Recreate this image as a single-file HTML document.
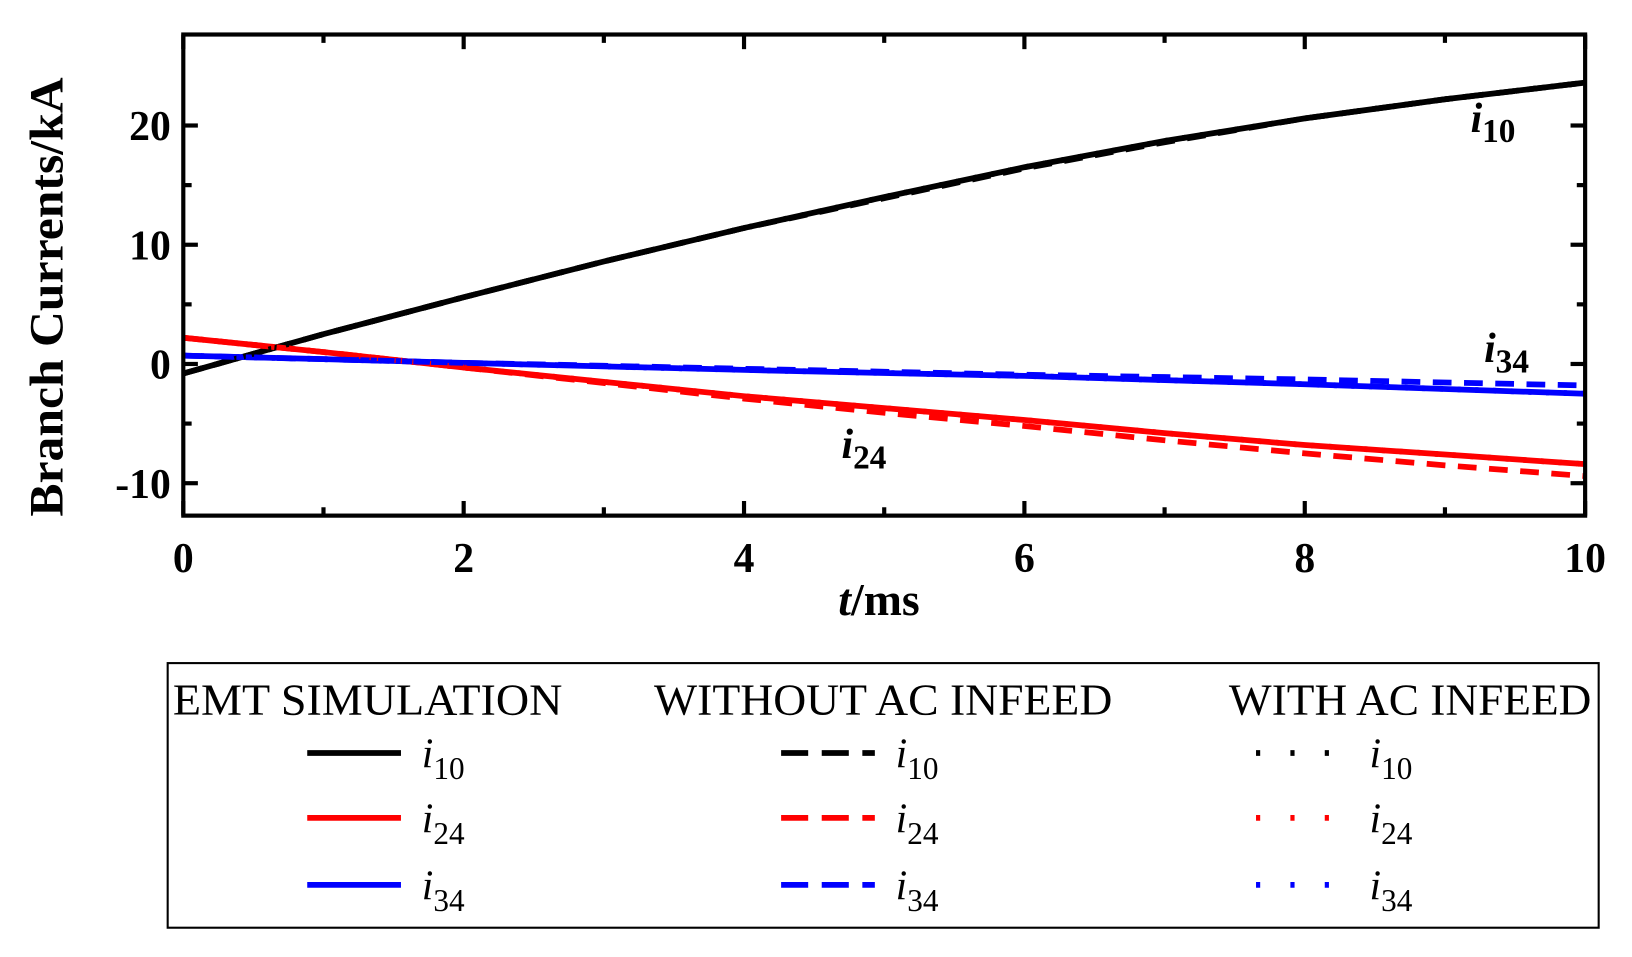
<!DOCTYPE html>
<html><head><meta charset="utf-8"><style>
body{margin:0;background:#fff;}
svg text{font-family:"Liberation Serif",serif;}
</style></head><body>
<svg style="position:absolute;left:0;top:0" width="1632" height="957" viewBox="0 0 1567 915" preserveAspectRatio="none" xmlns="http://www.w3.org/2000/svg">
<g id="plot"></g>
</svg>
<script>
const tVals=[0,1,2,3,4,5,6,7,8,9,10];
const i10Emt=[-0.8,2.5,5.6,8.6,11.4,14.0,16.5,18.7,20.6,22.2,23.6];
const i10NoAc=[-0.8,2.5,5.6,8.6,11.4,13.9,16.4,18.6,20.6,22.2,23.6];
const i24Emt=[2.2,1.0,-0.3,-1.5,-2.7,-3.7,-4.7,-5.8,-6.8,-7.6,-8.4];
const i24NoAc=[2.2,1.0,-0.3,-1.6,-2.9,-4.1,-5.2,-6.4,-7.5,-8.5,-9.4];
const i34Emt=[0.7,0.4,0.1,-0.2,-0.5,-0.75,-1.0,-1.35,-1.7,-2.1,-2.5];
const i34NoAc=[0.7,0.4,0.1,-0.15,-0.4,-0.65,-0.9,-1.1,-1.3,-1.55,-1.8];
const xTicks=[0,2,4,6,8,10];
const yTicks=[20,10,0,-10];
const L=176,R=1522,T=33,B=493;
const xs=t=>L+(t-0)/10*(R-L);
const ys=v=>348-v*11.4;
const NS='http://www.w3.org/2000/svg';
const plot=document.getElementById('plot');
function mk(tag,attrs,parent){const e=document.createElementNS(NS,tag);for(const k in attrs)e.setAttribute(k,attrs[k]);parent.appendChild(e);return e;}
const clip=mk('clipPath',{id:'c'},plot);mk('rect',{x:L,y:T,width:R-L,height:B-T},clip);
const series=[[i10Emt,'#000','none'],[i24Emt,'#f00','none'],[i34Emt,'#00f','none'],[i10NoAc,'#000','18 12'],[i24NoAc,'#f00','18 12'],[i34NoAc,'#00f','18 12'],[i10Emt,'#000','3 14'],[i24Emt,'#f00','3 14'],[i34Emt,'#00f','3 14']];
const names=['i10-emt-line','i24-emt-line','i34-emt-line','i10-no-ac-line','i24-no-ac-line','i34-no-ac-line','i10-with-ac-line','i24-with-ac-line','i34-with-ac-line'];
series.forEach((s,k)=>{
  const d=tVals.map((t,i)=>(i?'L':'M')+xs(t).toFixed(1)+' '+ys(s[0][i]).toFixed(1)).join(' ');
  const p=mk('path',{d:d,fill:'none',stroke:s[1],'stroke-width':5.5,'stroke-dasharray':s[2],'clip-path':'url(#c)'},plot);
  
  
});
const frame=mk('rect',{x:L,y:T,width:R-L,height:B-T,fill:'none',stroke:'#000','stroke-width':4},plot);


for(let t=0;t<=10;t++){
  const len=t%2===0?14:8;
  mk('line',{x1:xs(t),x2:xs(t),y1:B,y2:B-len,stroke:'#000','stroke-width':4},plot);
  mk('line',{x1:xs(t),x2:xs(t),y1:T,y2:T+len,stroke:'#000','stroke-width':4},plot);
}
xTicks.forEach(t=>{const e=mk('text',{x:xs(t),y:547,'text-anchor':'middle','font-size':40,'font-weight':'bold'},plot);e.textContent=t;

});
for(let v=-10;v<=20;v+=5){
  const len=v%10===0?14:8;
  mk('line',{x1:L,x2:L+len,y1:ys(v),y2:ys(v),stroke:'#000','stroke-width':4},plot);
  mk('line',{x1:R,x2:R-len,y1:ys(v),y2:ys(v),stroke:'#000','stroke-width':4},plot);
}
yTicks.forEach(v=>{const e=mk('text',{x:164,y:ys(v)+14,'text-anchor':'end','font-size':40,'font-weight':'bold'},plot);e.textContent=v;

});
</script>
<svg style="position:absolute;left:0;top:0" width="1632" height="957" viewBox="0 0 1567 915" preserveAspectRatio="none" xmlns="http://www.w3.org/2000/svg">
<text transform="translate(60,284) rotate(-90)" text-anchor="middle" font-size="46" font-weight="bold" textLength="420" lengthAdjust="spacingAndGlyphs" font-family="Liberation Serif, serif">Branch Currents/kA</text>
<text x="844" y="588" text-anchor="middle" font-size="44" font-weight="bold" font-family="Liberation Serif, serif"><tspan font-style="italic">t</tspan>/ms</text>
<text x="1412" y="126" font-size="40" font-weight="bold" font-family="Liberation Serif, serif"><tspan font-style="italic">i</tspan><tspan font-size="32" dy="10">10</tspan></text>
<text x="1425" y="346" font-size="40" font-weight="bold" font-family="Liberation Serif, serif"><tspan font-style="italic">i</tspan><tspan font-size="32" dy="10">34</tspan></text>
<text x="808" y="438" font-size="40" font-weight="bold" font-family="Liberation Serif, serif"><tspan font-style="italic">i</tspan><tspan font-size="32" dy="10">24</tspan></text>
<g font-family="Liberation Serif, serif">
<rect x="161" y="634" width="1374" height="253" fill="none" stroke="#000" stroke-width="2"/>
<text x="166" y="683" font-size="42" textLength="374" lengthAdjust="spacingAndGlyphs">EMT SIMULATION</text>
<text x="628" y="683" font-size="42" textLength="440" lengthAdjust="spacingAndGlyphs">WITHOUT AC INFEED</text>
<text x="1180" y="683" font-size="42" textLength="348" lengthAdjust="spacingAndGlyphs">WITH AC INFEED</text>
<g stroke-width="5.5" fill="none">
<line x1="295" x2="385" y1="720" y2="720" stroke="#000"/>
<line x1="295" x2="385" y1="782" y2="782" stroke="#f00"/>
<line x1="295" x2="385" y1="846" y2="846" stroke="#00f"/>
<line x1="750" x2="840" y1="720" y2="720" stroke="#000" stroke-dasharray="26 13"/>
<line x1="750" x2="840" y1="782" y2="782" stroke="#f00" stroke-dasharray="26 13"/>
<line x1="750" x2="840" y1="846" y2="846" stroke="#00f" stroke-dasharray="26 13"/>
<line x1="1206" x2="1280" y1="720" y2="720" stroke="#000" stroke-dasharray="4 29"/>
<line x1="1206" x2="1280" y1="782" y2="782" stroke="#f00" stroke-dasharray="4 29"/>
<line x1="1206" x2="1280" y1="846" y2="846" stroke="#00f" stroke-dasharray="4 29"/>
</g>
<g font-size="40">
<text x="405" y="734"><tspan font-style="italic">i</tspan><tspan font-size="30" dy="11">10</tspan></text>
<text x="405" y="796"><tspan font-style="italic">i</tspan><tspan font-size="30" dy="11">24</tspan></text>
<text x="405" y="860"><tspan font-style="italic">i</tspan><tspan font-size="30" dy="11">34</tspan></text>
<text x="860" y="734"><tspan font-style="italic">i</tspan><tspan font-size="30" dy="11">10</tspan></text>
<text x="860" y="796"><tspan font-style="italic">i</tspan><tspan font-size="30" dy="11">24</tspan></text>
<text x="860" y="860"><tspan font-style="italic">i</tspan><tspan font-size="30" dy="11">34</tspan></text>
<text x="1315" y="734"><tspan font-style="italic">i</tspan><tspan font-size="30" dy="11">10</tspan></text>
<text x="1315" y="796"><tspan font-style="italic">i</tspan><tspan font-size="30" dy="11">24</tspan></text>
<text x="1315" y="860"><tspan font-style="italic">i</tspan><tspan font-size="30" dy="11">34</tspan></text>
</g>
</g>
</svg>
</body></html>
